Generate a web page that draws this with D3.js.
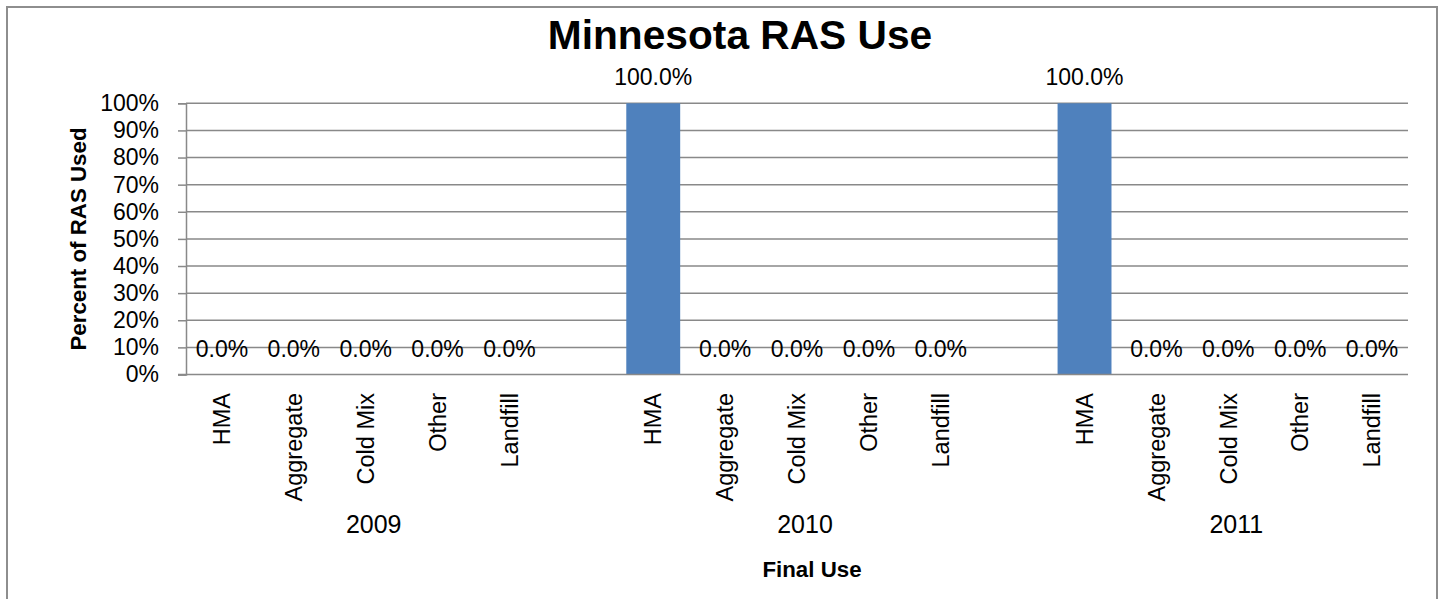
<!DOCTYPE html>
<html>
<head>
<meta charset="utf-8">
<script src="https://cdn.jsdelivr.net/npm/d3@7"></script>
<style>
  html, body { margin: 0; padding: 0; background: #fff; }
  svg { display: block; }
  text { font-family: "Liberation Sans", Arial, sans-serif; fill: #000; }
</style>
</head>
<body>
<svg id="chart" width="1443" height="599"></svg>
<script>
// ---- data ----
const years = ["2009", "2010", "2011"];
const uses = ["HMA", "Aggregate", "Cold Mix", "Other", "Landfill"];
const values2009 = [0, 0, 0, 0, 0];
const values2010 = [100, 0, 0, 0, 0];
const values2011 = [100, 0, 0, 0, 0];
const yTicks = [0, 10, 20, 30, 40, 50, 60, 70, 80, 90, 100];
const titleText = "Minnesota RAS Use";
const yTitle = "Percent of RAS Used";
const xTitle = "Final Use";

const seriesByYear = { "2009": values2009, "2010": values2010, "2011": values2011 };

// flatten into slots: each year's uses, with an empty slot between year groups
const slots = [];
years.forEach((yr, gi) => {
  uses.forEach((u, i) => slots.push({ key: yr + "|" + u, year: yr, use: u, value: seriesByYear[yr][i] }));
  if (gi < years.length - 1) slots.push({ key: yr + "|gap", year: yr, use: null, value: null });
});
const items = slots.filter(d => d.use !== null);

// ---- layout ----
const svg = d3.select("#chart");
const W = 1443, H = 599;
const plot = { left: 186, right: 1408, top: 103.3, bottom: 374.5 };
const gridColor = "#898989";

svg.append("rect").attr("x", 0).attr("y", 0).attr("width", W).attr("height", H).attr("fill", "#fff");
// chart border
svg.append("rect")
  .attr("x", 7).attr("y", 7).attr("width", 1430).attr("height", 620)
  .attr("fill", "none").attr("stroke", "#8e8e8e").attr("stroke-width", 2);

const x = d3.scaleBand()
  .domain(slots.map(d => d.key))
  .range([plot.left, plot.right])
  .paddingInner(0.25)
  .paddingOuter(0.125);

const y = d3.scaleLinear().domain([0, 100]).range([plot.bottom, plot.top]);

// gridlines
svg.append("g").selectAll("line").data(yTicks.filter(t => t > 0)).join("line")
  .attr("x1", plot.left).attr("x2", plot.right)
  .attr("y1", d => y(d)).attr("y2", d => y(d))
  .attr("stroke", gridColor).attr("stroke-width", 1.5);

// y axis
const yAxis = d3.axisLeft(y).tickValues(yTicks).tickSize(8).tickPadding(19)
  .tickFormat(d => d + "%");
const gy = svg.append("g").attr("transform", `translate(${plot.left},0)`).call(yAxis);
gy.select(".domain").attr("stroke", gridColor).attr("stroke-width", 1.5);
gy.selectAll(".tick line").attr("stroke", gridColor).attr("stroke-width", 1.5);
gy.selectAll(".tick text")
  .style("font-family", "'Liberation Sans', Arial, sans-serif")
  .style("font-size", "23px").attr("fill", "#000");

// bars
svg.append("g").selectAll("rect").data(items).join("rect")
  .attr("x", d => x(d.key))
  .attr("width", x.bandwidth())
  .attr("y", d => y(d.value))
  .attr("height", d => y(0) - y(d.value))
  .attr("fill", "#4f81bd");

// x axis baseline
svg.append("line")
  .attr("x1", plot.left - 8).attr("x2", plot.right)
  .attr("y1", y(0)).attr("y2", y(0))
  .attr("stroke", gridColor).attr("stroke-width", 1.5);

// value labels
svg.append("g").selectAll("text").data(items).join("text")
  .attr("x", d => x(d.key) + x.bandwidth() / 2)
  .attr("y", d => y(d.value) - 18)
  .attr("text-anchor", "middle")
  .style("font-size", "23px")
  .text(d => d.value.toFixed(1) + "%");

// category labels (rotated)
svg.append("g").selectAll("text").data(items).join("text")
  .attr("transform", d => `translate(${x(d.key) + x.bandwidth() / 2},393) rotate(-90)`)
  .attr("text-anchor", "end")
  .attr("dy", "0.35em")
  .style("font-size", "23.5px")
  .text(d => d.use);

// year group labels
svg.append("g").selectAll("text").data(years).join("text")
  .attr("x", yr => {
    const ks = items.filter(d => d.year === yr).map(d => x(d.key) + x.bandwidth() / 2);
    return (d3.min(ks) + d3.max(ks)) / 2 + 8;
  })
  .attr("y", 533)
  .attr("text-anchor", "middle")
  .style("font-size", "25px")
  .text(d => d);

// title
svg.append("text")
  .attr("x", 740).attr("y", 49)
  .attr("text-anchor", "middle")
  .style("font-size", "40.7px").style("font-weight", "bold")
  .text(titleText);

// axis titles
svg.append("text")
  .attr("transform", "translate(86,239) rotate(-90)")
  .attr("text-anchor", "middle")
  .style("font-size", "22.3px").style("font-weight", "bold")
  .text(yTitle);

svg.append("text")
  .attr("x", 812).attr("y", 577)
  .attr("text-anchor", "middle")
  .style("font-size", "22.3px").style("font-weight", "bold")
  .text(xTitle);
</script>
</body>
</html>
